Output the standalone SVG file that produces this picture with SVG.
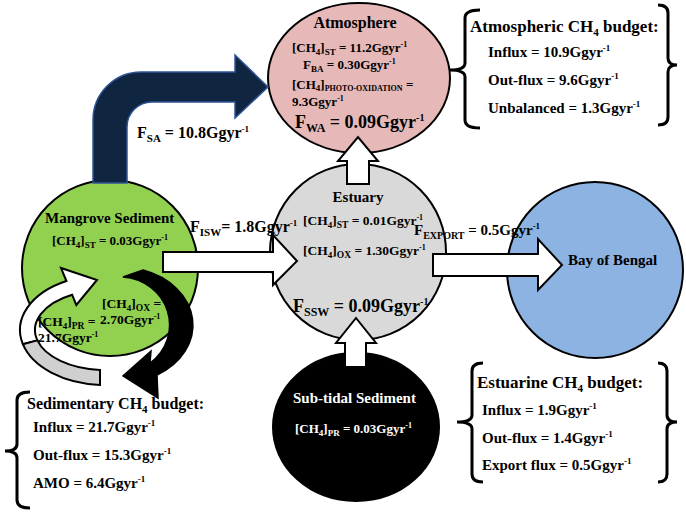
<svg xmlns="http://www.w3.org/2000/svg" width="686" height="514" viewBox="0 0 686 514">
<style>
text { font-family: "Liberation Serif", "Times New Roman", serif; font-weight: bold; fill: #000; }
.n { stroke: #000; stroke-width: 2; }
.wa { fill: #fff; stroke: #000; stroke-width: 2; stroke-linejoin: miter; }
.br { fill: none; stroke: #000; stroke-width: 3; }
.f13 { font-size: 13px; }
.f13h { font-size: 13.5px; }
.f15 { font-size: 15px; }
.f16 { font-size: 16px; }
.f17 { font-size: 17px; }
.f18 { font-size: 18px; }
.w { fill: #fff; }
</style>
<rect width="686" height="514" fill="#fff"/>

<g id="atmosphere">
  <ellipse class="n" cx="359" cy="78" rx="91" ry="75" fill="#e6b9b8"/>
  <text class="f16" x="355" y="28" text-anchor="middle">Atmosphere</text>
  <text class="f13" x="292" y="52">[CH<tspan font-size="9" dy="3">4</tspan><tspan dy="-3">]</tspan><tspan font-size="9" dy="3">ST</tspan><tspan dy="-3"> = 11.2Ggyr</tspan><tspan font-size="8" dy="-5">-1</tspan></text>
  <text class="f13" x="303" y="69">F<tspan font-size="9" dy="3">BA</tspan><tspan dy="-3"> = 0.30Ggyr</tspan><tspan font-size="8" dy="-5">-1</tspan></text>
  <text class="f13" x="292" y="89">[CH<tspan font-size="9" dy="2">4</tspan><tspan dy="-2">]</tspan><tspan font-size="8" dy="2">PHOTO-OXIDATION</tspan><tspan dy="-2"> =</tspan></text>
  <text class="f13" x="292" y="106">9.3Ggyr<tspan font-size="8" dy="-5">-1</tspan></text>
  <text class="f18" x="295" y="128">F<tspan font-size="12" dy="4">WA</tspan><tspan dy="-4"> = 0.09Ggyr</tspan><tspan font-size="10" dy="-7">-1</tspan></text>
</g>

<g id="estuary">
  <circle class="n" cx="358" cy="252" r="88" fill="#d9d9d9"/>
  <text class="f15" x="358" y="202" text-anchor="middle">Estuary</text>
  <text class="f13h" x="303" y="225">[CH<tspan font-size="9" dy="3">4</tspan><tspan dy="-3">]</tspan><tspan font-size="9.5" dy="3">ST</tspan><tspan dy="-3"> = 0.01Ggyr</tspan><tspan font-size="8" dy="-5">-1</tspan></text>
  <text class="f13h" x="303" y="255">[CH<tspan font-size="9" dy="3">4</tspan><tspan dy="-3">]</tspan><tspan font-size="9.5" dy="3">OX</tspan><tspan dy="-3"> = 1.30Ggyr</tspan><tspan font-size="8" dy="-5">-1</tspan></text>
  <text class="f18" x="293" y="312">F<tspan font-size="12" dy="4">SSW</tspan><tspan dy="-4"> = 0.09Ggyr</tspan><tspan font-size="10" dy="-7">-1</tspan></text>
</g>

<g id="mangrove-sediment">
  <circle class="n" cx="110" cy="268" r="88" fill="#92d050"/>
</g>

<g id="sub-tidal-sediment">
  <ellipse cx="356" cy="427" rx="83" ry="74" fill="#000" stroke="#000" stroke-width="2"/>
  <text class="f15 w" x="293" y="403">Sub-tidal Sediment</text>
  <text class="f13 w" x="295" y="433">[CH<tspan font-size="9" dy="3">4</tspan><tspan dy="-3">]</tspan><tspan font-size="9" dy="3">PR</tspan><tspan dy="-3"> = 0.03Ggyr</tspan><tspan font-size="8" dy="-5">-1</tspan></text>
</g>

<g id="bay-of-bengal">
  <circle class="n" cx="595" cy="270" r="88" fill="#8db3e2"/>
</g>

<g id="connectors">
  <path d="M 93 183 L 93 120 A 48 48 0 0 1 141 72 L 235 72 L 235 55 L 268 87 L 235 118 L 235 102 L 152 102 A 25 25 0 0 0 127 127 L 127 183 Z" fill="#10253f" stroke="#2f5496" stroke-width="1.5"/>
  <path class="wa" d="M 347 184 L 347 161 L 338 161 L 358 137 L 378 161 L 369 161 L 369 184 Z"/>
  <path class="wa" d="M 345 367 L 345 343 L 336 343 L 356 318 L 376 343 L 366 343 L 366 367 Z"/>
  <path class="wa" d="M 163 252 L 273 252 L 273 235 L 297 261 L 273 285 L 273 272 L 163 272 Z"/>
  <path class="wa" d="M 433 254 L 538 254 L 538 239 L 562 265 L 538 290 L 538 276 L 433 276 Z"/>
  <path class="wa" d="M 66.4 281 L 61 268 L 97 280 L 76.3 305 L 72.1 294.7 A 70 40 0 0 0 37.4 340.4 L 22.9 344.2 A 85 55 0 0 1 66.4 281 Z"/>
  <path d="M 22.9 344.2 A 85 55 0 0 0 100 384.9 L 100 369.9 A 70 40 0 0 1 37.4 340.4 Z" fill="#d0d0d0" stroke="#000" stroke-width="2"/>
  <path d="M 143 270 A 73 58 0 0 1 157 375 L 158 398 L 123 376 L 151 351 L 150 363 A 50 48 0 0 0 123 277 Z" fill="#000" stroke="#000" stroke-width="1.5"/>
</g>

<g id="mangrove-text">
  <text class="f15" x="45" y="223">Mangrove Sediment</text>
  <text class="f13" x="52" y="245">[CH<tspan font-size="9" dy="3">4</tspan><tspan dy="-3">]</tspan><tspan font-size="9" dy="3">ST</tspan><tspan dy="-3"> = 0.03Ggyr</tspan><tspan font-size="8" dy="-5">-1</tspan></text>
  <text class="f13h" x="102" y="308">[CH<tspan font-size="9" dy="3">4</tspan><tspan dy="-3">]</tspan><tspan font-size="9.5" dy="3">OX</tspan><tspan dy="-3"> =</tspan></text>
  <text class="f13h" x="100" y="324">2.70Ggyr<tspan font-size="8" dy="-5">-1</tspan></text>
  <text class="f13h" x="38" y="326">[CH<tspan font-size="9" dy="3">4</tspan><tspan dy="-3">]</tspan><tspan font-size="9.5" dy="3">PR</tspan><tspan dy="-3"> =</tspan></text>
  <text class="f13h" x="38" y="342">21.7Ggyr<tspan font-size="8" dy="-5">-1</tspan></text>
</g>

<g id="bay-text">
  <text class="f15" x="568" y="265">Bay of Bengal</text>
</g>

<g id="flux-labels">
  <text class="f16" x="137" y="138">F<tspan font-size="11" dy="4">SA</tspan><tspan dy="-4"> = 10.8Ggyr</tspan><tspan font-size="9" dy="-6">-1</tspan></text>
  <text class="f16" x="190" y="232">F<tspan font-size="11" dy="4">ISW</tspan><tspan dy="-4">= 1.8Ggyr</tspan><tspan font-size="9" dy="-6">-1</tspan></text>
  <text class="f15" x="414" y="235">F<tspan font-size="10" dy="4">EXPORT</tspan><tspan dy="-4"> = 0.5Ggyr</tspan><tspan font-size="9" dy="-6">-1</tspan></text>
</g>

<g id="atmospheric-budget">
  <path class="br" d="M 480 10 Q 465 10 465 18 L 465 63 Q 465 70 450 70 Q 465 70 465 77 L 465 120 Q 465 128 480 128"/>
  <path class="br" d="M 658 5 Q 668 5 668 13 L 668 58 Q 668 65 677 65 Q 668 65 668 72 L 668 117 Q 668 125 658 125"/>
  <text class="f17" x="470" y="32">Atmospheric CH<tspan font-size="11" dy="4">4</tspan><tspan dy="-4"> budget:</tspan></text>
  <text class="f15" x="488" y="57">Influx = 10.9Ggyr<tspan font-size="9" dy="-6">-1</tspan></text>
  <text class="f15" x="488" y="85">Out-flux = 9.6Ggyr<tspan font-size="9" dy="-6">-1</tspan></text>
  <text class="f15" x="488" y="113">Unbalanced = 1.3Ggyr<tspan font-size="9" dy="-6">-1</tspan></text>
</g>

<g id="estuarine-budget">
  <path class="br" d="M 483 363 Q 472 363 472 371 L 472 415 Q 472 422 457 422 Q 472 422 472 429 L 472 474 Q 472 482 483 482"/>
  <path class="br" d="M 658 363 Q 667 363 667 371 L 667 415 Q 667 422 677 422 Q 667 422 667 429 L 667 474 Q 667 482 658 482"/>
  <text class="f17" x="477" y="388">Estuarine CH<tspan font-size="11" dy="4">4</tspan><tspan dy="-4"> budget:</tspan></text>
  <text class="f15" x="482" y="415">Influx = 1.9Ggyr<tspan font-size="9" dy="-6">-1</tspan></text>
  <text class="f15" x="482" y="443">Out-flux = 1.4Ggyr<tspan font-size="9" dy="-6">-1</tspan></text>
  <text class="f15" x="482" y="470">Export flux = 0.5Ggyr<tspan font-size="9" dy="-6">-1</tspan></text>
</g>

<g id="sedimentary-budget">
  <path class="br" d="M 30 392 Q 17 392 17 400 L 17 444 Q 17 451 5 451 Q 17 451 17 458 L 17 500 Q 17 508 30 508"/>
  <text class="f16" x="27" y="409">Sedimentary CH<tspan font-size="11" dy="4">4</tspan><tspan dy="-4"> budget:</tspan></text>
  <text class="f15" x="33" y="432">Influx = 21.7Ggyr<tspan font-size="9" dy="-6">-1</tspan></text>
  <text class="f15" x="33" y="460">Out-flux = 15.3Ggyr<tspan font-size="9" dy="-6">-1</tspan></text>
  <text class="f15" x="33" y="488">AMO = 6.4Ggyr<tspan font-size="9" dy="-6">-1</tspan></text>
</g>
</svg>
